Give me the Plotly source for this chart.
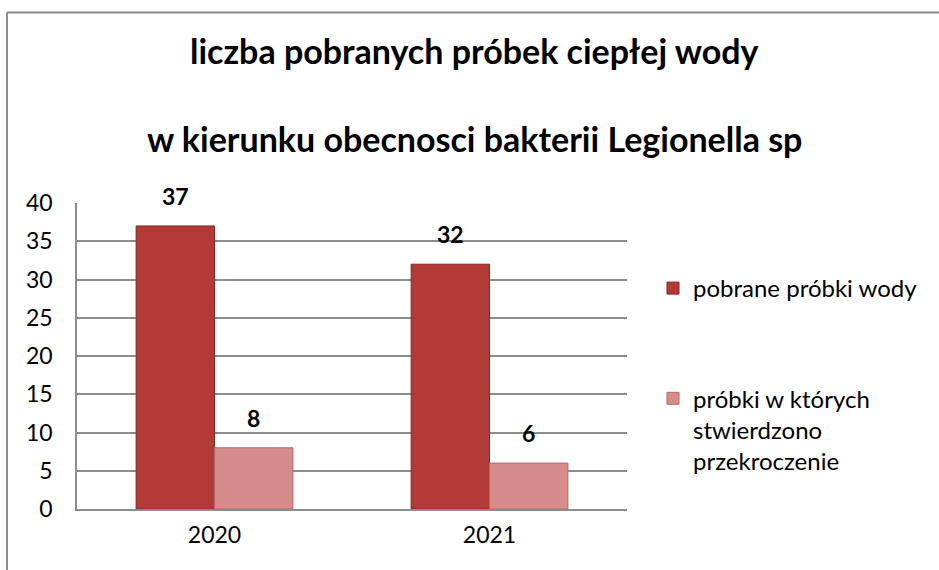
import plotly.graph_objects as go

categories = ["2020", "2021"]
series_names = ["pobrane próbki wody", "próbki w których<br>stwierdzono<br>przekroczenie"]
pobrane = [37, 32]
przekroczenie = [8, 6]
y_ticks = [0, 5, 10, 15, 20, 25, 30, 35, 40]
title_lines = ["liczba pobranych próbek ciepłej wody",
               "w kierunku obecnosci bakterii Legionella sp"]

FONT = "Lato, Carlito, Calibri, sans-serif"
W, H = 939, 570
L, R, T, B = 77, 312, 203, 61
pw, ph = W - L - R, H - T - B

def px2x(px):
    return (px - L) / pw

def py2y(py):
    return (H - B - py) / ph

fig = go.Figure()
fig.add_trace(go.Bar(
    x=categories, y=pobrane, name=series_names[0], legendgroup="a",
    marker=dict(color="#B23A37", line=dict(color="#8A2624", width=1)),
))
fig.add_trace(go.Bar(
    x=categories, y=przekroczenie, name=series_names[1], legendgroup="b",
    marker=dict(color="#D68C8A", line=dict(color="#B06866", width=1)),
))

annotations = []
for vals, shift in ((pobrane, -39), (przekroczenie, 39)):
    for idx, v in enumerate(vals):
        annotations.append(dict(
            x=idx, y=v, xref="x", yref="y", text=f"<b>{v}</b>", showarrow=False,
            xshift=shift, yshift=14, yanchor="bottom",
            font=dict(family=FONT, size=23, color="#000000"),
        ))
for i, (line, py) in enumerate(zip(title_lines, (50, 138))):
    annotations.append(dict(
        x=px2x(474), y=py2y(py), xref="paper", yref="paper", text=f"<b>{line}</b>",
        showarrow=False, xanchor="center", yanchor="middle",
        font=dict(family=FONT, size=34, color="#000000"),
    ))

shapes = [
    dict(type="line", xref="paper", yref="paper", x0=px2x(7), x1=px2x(945),
         y0=py2y(12.5), y1=py2y(12.5), line=dict(color="#8C8C8C", width=2)),
    dict(type="line", xref="paper", yref="paper", x0=px2x(7), x1=px2x(7),
         y0=py2y(12.5), y1=py2y(580), line=dict(color="#8C8C8C", width=2)),
]

fig.update_layout(
    width=W, height=H,
    margin=dict(l=L, r=R, t=T, b=B, autoexpand=False),
    paper_bgcolor="white", plot_bgcolor="white",
    barmode="group", bargap=0.43, bargroupgap=0,
    font=dict(family=FONT, size=23, color="#000000"),
    showlegend=True,
    legend=dict(
        x=px2x(653), y=py2y(266), xanchor="left", yanchor="top",
        font=dict(family=FONT, size=24, color="#000000"),
        tracegroupgap=76, valign="top",
        bgcolor="rgba(0,0,0,0)",
    ),
    annotations=annotations,
    shapes=shapes,
)
fig.update_yaxes(
    range=[0, 40], tickvals=y_ticks, showgrid=True, gridcolor="#8C8C8C", gridwidth=1.5,
    showline=True, linecolor="#8C8C8C", linewidth=1.5, zeroline=False,
    ticks="outside", ticklen=18, tickcolor="rgba(0,0,0,0)",
    tickfont=dict(family=FONT, size=23),
)
fig.update_xaxes(
    type="category", range=[-0.5, len(categories) - 0.5],
    showline=True, linecolor="#8C8C8C", linewidth=1.5,
    ticks="outside", ticklen=5, tickcolor="rgba(0,0,0,0)",
    tickfont=dict(family=FONT, size=23),
)

fig.write_html("out.html", config={"displayModeBar": False},
               post_script="document.body.style.margin='0px';")
